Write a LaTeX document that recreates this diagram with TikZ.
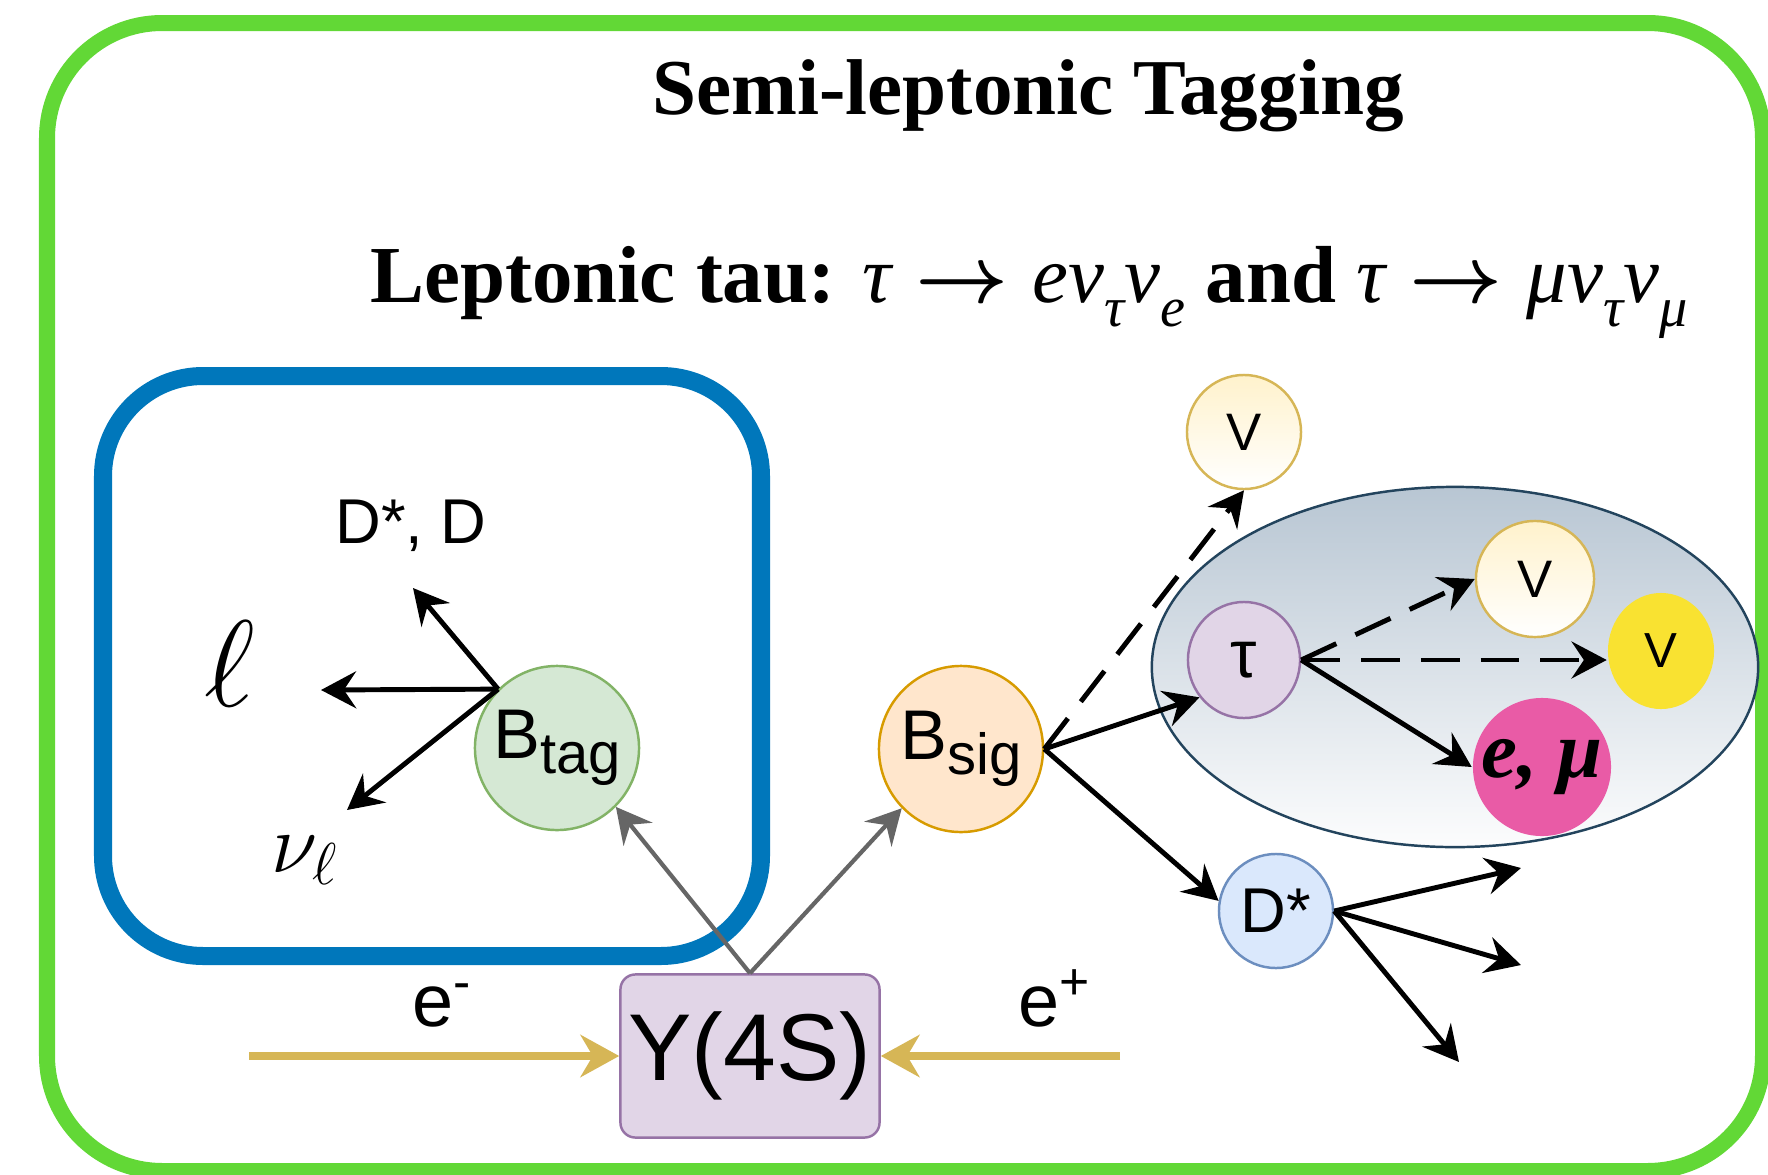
\RequirePackage{fix-cm}
\documentclass[tikz,border=0pt]{standalone}
\usepackage{fontspec}
\setmainfont{Liberation Serif}
\setsansfont{Liberation Sans}
\usetikzlibrary{shapes.geometric,arrows.meta}

\definecolor{framegreen}{HTML}{62D836}
\definecolor{tagblue}{HTML}{0077BB}
\definecolor{arrgray}{HTML}{666666}
\definecolor{beamyel}{HTML}{D6B656}
\definecolor{grnfill}{HTML}{D5E8D4}
\definecolor{grnline}{HTML}{82B366}
\definecolor{orgfill}{HTML}{FFE6CC}
\definecolor{orgline}{HTML}{D79B00}
\definecolor{purfill}{HTML}{E1D5E7}
\definecolor{purline}{HTML}{9673A6}
\definecolor{blufill}{HTML}{DAE8FC}
\definecolor{bluline}{HTML}{6C8EBF}
\definecolor{yelfill}{HTML}{FFF2CC}
\definecolor{vyellow}{HTML}{F9E231}
\definecolor{emufill}{HTML}{E95BA6}
\definecolor{grpfill}{HTML}{B8C6D3}
\definecolor{grpline}{HTML}{23445D}

\newcommand{\fsz}[1]{\fontsize{#1}{#1}\selectfont}
\newcommand{\bsub}[1]{\raisebox{-0.22em}{\fsz{16.5}#1}}
\newcommand{\gr}[1]{{\mdseries\itshape #1}}
\newcommand{\lsub}[1]{\raisebox{-0.3em}{\fsz{16}\mdseries\itshape #1}}
\newcommand{\goesto}{\hspace{0.3em}{\boldmath$\rightarrow$}\hspace{0.3em}}

\tikzset{
  part/.style={ellipse, draw, line width=0.7pt, inner sep=0pt,
    minimum width=1.14cm, minimum height=1.14cm},
  nulabel/.style={font=\sffamily\fsz{15}},
  dec/.style={line width=1.4pt, -{Stealth[length=10pt,width=10.5pt,inset=3.5pt]}},
  decdash/.style={dec, dash pattern=on 11pt off 6pt},
  prod/.style={line width=1.2pt, draw=arrgray,
    -{Stealth[length=10pt,width=10.5pt,inset=3.5pt]}},
  beam/.style={line width=2pt, draw=beamyel,
    -{Stealth[length=11pt,width=12pt,inset=3.5pt]}},
}

\begin{document}
\begin{tikzpicture}[x=0.01cm, y=-0.01cm]
  \useasboundingbox (0,0) rectangle (1768,1175);
  \fill[white] (0,0) rectangle (1768,1175);

  % outer frame and headings
  \draw[framegreen, line width=0.16cm, rounded corners=1.15cm] (47,23) rectangle (1763,1171);
  \node[font=\bfseries\fsz{22.5}, anchor=base, inner sep=0pt] (title) at (1028,114) {Semi-leptonic Tagging};
  \node[font=\bfseries\fsz{23}, anchor=base, inner sep=0pt] (subtitle) at (1029,302)
    {Leptonic tau: \gr{τ}\goesto\gr{eν}\lsub{τ}\gr{ν}\lsub{e} and \gr{τ}\goesto\gr{μν}\lsub{τ}\gr{ν}\lsub{μ}};

  % tag side box
  \draw[tagblue, line width=0.18cm, rounded corners=1cm] (103,376) rectangle (761,956);

  % nodes
  \node[draw=purline, fill=purfill, line width=0.7pt, rounded corners=0.15cm,
    minimum width=2.59cm, minimum height=1.63cm, inner sep=0pt,
    font=\sffamily\fsz{27}] (y4s) at (750,1056) {Y(4S)};
  \node[part, draw=grnline, fill=grnfill, minimum width=1.64cm, minimum height=1.64cm,
    label={[font=\sffamily\fsz{20}]center:B\bsub{tag}}] (btag) at (557,748) {};
  \node[part, draw=orgline, fill=orgfill, minimum width=1.64cm, minimum height=1.66cm,
    label={[font=\sffamily\fsz{20}]center:B\bsub{sig}}] (bsig) at (961,749) {};
  \node[part, draw=bluline, fill=blufill,
    label={[font=\sffamily\fsz{18}]center:D*}] (dstar) at (1276,911) {};
  \node[part, draw=beamyel, top color=yelfill, bottom color=white,
    label={[nulabel]center:V}] (vtop) at (1244,432) {};

  % tau decay group
  \node[ellipse, draw=grpline, line width=0.7pt, top color=grpfill, bottom color=white!96!grpfill,
    minimum width=6.06cm, minimum height=3.60cm] (grp) at (1455,667) {};
  \node[part, draw=purline, fill=purfill, minimum width=1.12cm, minimum height=1.16cm,
    label={[font=\sffamily\fsz{19}]center:τ}] (tau) at (1244,660) {};
  \node[part, draw=beamyel, top color=yelfill, bottom color=white,
    minimum width=1.18cm, minimum height=1.16cm,
    label={[nulabel]center:V}] (vin) at (1535,579) {};
  \node[part, draw=none, fill=vyellow, minimum width=1.06cm, minimum height=1.16cm,
    label={[font=\sffamily\fsz{14}]center:V}] (vyel) at (1661,651) {};
  \node[part, draw=none, fill=emufill, minimum width=1.38cm, minimum height=1.38cm,
    label={[font=\bfseries\itshape\fsz{23}]center:e, μ}] (emu) at (1542,767) {};

  % labels
  \node[font=\sffamily\fsz{18}, anchor=base, inner sep=0pt] (dDlab) at (411,543) {D*, D};
  \node[font=\fsz{35}, anchor=base, inner sep=0pt] (leplab) at (230,706) {$\ell$};
  \node[font=\fsz{24}, anchor=base west, inner sep=0pt] (nulab) at (271,872) {$\nu_\ell$};
  \node[font=\sffamily\fsz{21}, anchor=base west, inner sep=0pt] (emlab) at (412,1026) {e\textsuperscript{-}};
  \node[font=\sffamily\fsz{21}, anchor=base west, inner sep=0pt] (eplab) at (1018,1026) {e\textsuperscript{+}};

  \coordinate (dD) at (413,588);
  \coordinate (lep) at (321,690);
  \coordinate (nul) at (347,810);
  \coordinate (d1) at (1521,868);
  \coordinate (d2) at (1521,965);
  \coordinate (d3) at (1459,1062);
  \coordinate (emin) at (249,1056);
  \coordinate (epl) at (1120,1056);

  % beams and B production
  \draw[beam] (emin) -- (y4s.west);
  \draw[beam] (epl) -- (y4s.east);
  \draw[prod] (y4s.north) -- (btag.-45);
  \draw[prod] (y4s.north) -- (bsig.225);

  % B tag decay
  \draw[dec] (btag.135) -- (dD);
  \draw[dec] (btag.135) -- (lep);
  \draw[dec] (btag.135) -- (nul);

  % B sig decay
  \draw[decdash] (bsig.east) -- (vtop.south);
  \draw[dec] (bsig.east) -- (tau.220);
  \draw[dec] (bsig.east) -- (dstar.170);
  \draw[decdash] (tau.east) -- (vin.west);
  \draw[decdash] (tau.east) -- (tau.east -| vyel.west);
  \draw[dec] (tau.east) -- (emu.west);
  \draw[dec] (dstar.east) -- (d1);
  \draw[dec] (dstar.east) -- (d2);
  \draw[dec] (dstar.east) -- (d3);
\end{tikzpicture}
\end{document}
